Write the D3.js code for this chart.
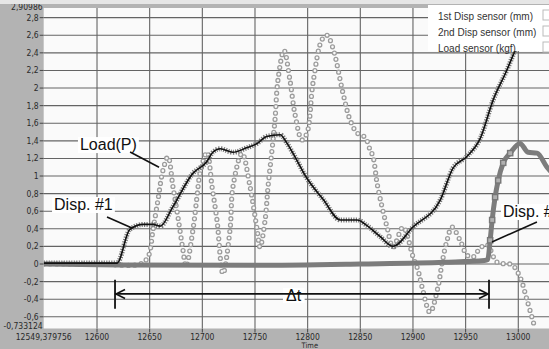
<!DOCTYPE html>
<html>
<head>
<meta charset="utf-8">
<script src="https://cdn.jsdelivr.net/npm/d3@7"></script>
<style>
  html, body { margin: 0; padding: 0; background: #b3b3b3; }
  svg { display: block; }
  .tick-label { font-family: 'Liberation Sans Narrow', 'DejaVu Sans Condensed', 'Liberation Sans', sans-serif; font-size: 8.5px; fill: #2a2a2a; }
  .note { font-family: 'Liberation Sans', Arial, sans-serif; font-size: 16px; fill: #111; }
  .legend-text { font-family: 'Liberation Sans', Arial, sans-serif; font-size: 10px; fill: #333; }
</style>
</head>
<body>
<div id="chart"></div>
<script>
// axis ticks
const xTicks = [12600, 12650, 12700, 12750, 12800, 12850, 12900, 12950, 13000];
const yTicks = [-0.6, -0.4, -0.2, 0, 0.2, 0.4, 0.6, 0.8, 1, 1.2, 1.4, 1.6, 1.8, 2, 2.2, 2.4, 2.6, 2.8];
const xMin = 12549.379756, xMax = 13054.8;
const yMin = -0.733124, yMax = 2.90986;
const xAxisTitle = "Time";

const legendNames = ["1st Disp sensor (mm)", "2nd Disp sensor (mm)", "Load sensor (kgf)"];

// Disp #1 (black hatched line)
const disp1Time = [12549.4, 12590, 12619, 12631, 12644, 12653, 12660, 12672, 12691, 12704, 12710, 12717, 12729, 12742, 12752, 12761, 12774, 12780, 12786, 12799, 12815, 12831, 12847, 12856, 12869, 12881, 12900, 12926, 12938, 12951, 12964, 12976, 12989, 12996, 13016];
const disp1Val  = [0.01, 0.01, 0.01, 0.39, 0.45, 0.45, 0.43, 0.65, 1.03, 1.16, 1.27, 1.31, 1.27, 1.32, 1.37, 1.45, 1.47, 1.38, 1.26, 0.98, 0.73, 0.5, 0.5, 0.44, 0.31, 0.2, 0.42, 0.73, 1.09, 1.22, 1.43, 1.86, 2.2, 2.4, 2.92];

// Load (light circles)
const loadTime = [12549.4, 12600, 12641, 12648.4, 12653.2, 12657.9, 12662.7, 12667.4, 12672.1, 12676.9, 12681.6, 12684.5, 12691.1, 12694.9, 12697.8, 12704.4, 12709.2, 12713.9, 12719.6, 12726.3, 12729.1, 12737.7, 12745.3, 12752.0, 12754.8, 12759.6, 12762.4, 12766.2, 12769.0, 12771.8, 12777.5, 12783.2, 12788.0, 12794.6, 12799.4, 12805.1, 12813.6, 12818.4, 12824.1, 12833.6, 12840.2, 12846.9, 12854.5, 12859.2, 12862.1, 12865.9, 12870.6, 12875.4, 12881.1, 12890.6, 12900.1, 12904.8, 12908.6, 12916.2, 12923.8, 12927.6, 12932.4, 12937.1, 12944.7, 12951.4, 12957.1, 12963.7, 12970.4, 12979.9, 12994.1, 13001.7, 13008.3, 13015.9];
const loadVal  = [0, 0, 0, 0.08, 0.39, 0.73, 1.07, 1.22, 0.88, 0.53, 0.16, -0.03, 0.39, 0.76, 1.03, 1.27, 0.88, 0.5, -0.11, 0.39, 0.88, 1.26, 0.88, 0.39, 0.19, 0.5, 0.88, 1.3, 1.64, 2.09, 2.43, 2.09, 1.7, 1.41, 1.49, 2.06, 2.55, 2.6, 2.45, 1.94, 1.64, 1.49, 1.44, 1.3, 1.22, 0.92, 0.65, 0.42, 0.19, 0.42, 0.08, -0.07, -0.26, -0.55, -0.26, 0.01, 0.27, 0.42, 0.27, 0.1, 0.08, 0.18, 0.22, 0.02, -0.01, -0.15, -0.41, -0.73];

// Disp #2 (thick gray line)
const disp2Time = [12549.4, 12620, 12750, 12850, 12930, 12968, 12971, 12973.3, 12975.2, 12978, 12980.9, 12985.7, 12992.3, 13001.7, 13009.3, 13017.8, 13027.3, 13035];
const disp2Val  = [0, -0.01, -0.015, 0, 0.02, 0.04, 0.05, 0.27, 0.5, 0.76, 0.95, 1.15, 1.26, 1.37, 1.27, 1.26, 1.1, 1.0];

// annotations, in data units
const notes = [
  { text: "Load(P)", t: 12583.8, v: 1.295, from: [12631.4, 1.273], to: [12658.9, 1.10] },
  { text: "Disp. #1", t: 12559.2, v: 0.614, from: [12609.5, 0.534], to: [12633.2, 0.409] },
  { text: "Disp. #2", t: 12985.4, v: 0.534, from: [13017.7, 0.477], to: [12975.0, 0.25] }
];
const deltaT = { start: 12617.1, end: 12972.2, v: -0.34, top: -0.18, bottom: -0.51, label: "\u0394t", labelT: 12786.6 };

const width = 549, height = 349;
const plot = { left: 43.7, right: 576, top: 8, bottom: 328.5 };

const x = d3.scaleLinear().domain([xMin, xMax]).range([plot.left, plot.right]);
const y = d3.scaleLinear().domain([yMin, yMax]).range([plot.bottom, plot.top]);

const commaFmt = d3.formatLocale({ decimal: ",", thousands: "", grouping: [3], currency: ["", ""], minus: "-" });
const yFmt = commaFmt.format(".1~f");

const svg = d3.select("#chart").append("svg")
  .attr("width", width)
  .attr("height", height);

svg.append("rect").attr("width", width).attr("height", height).attr("fill", "#b3b3b3");

svg.append("defs").append("clipPath").attr("id", "clip")
  .append("rect")
  .attr("x", plot.left).attr("y", plot.top)
  .attr("width", plot.right - plot.left).attr("height", plot.bottom - plot.top);

svg.append("rect")
  .attr("x", plot.left).attr("y", plot.top)
  .attr("width", plot.right - plot.left).attr("height", plot.bottom - plot.top)
  .attr("fill", "#fafafa");

const g = svg.append("g").attr("clip-path", "url(#clip)");

// grid
g.selectAll(".hgrid").data(yTicks).join("line")
  .attr("x1", plot.left).attr("x2", plot.right)
  .attr("y1", d => y(d)).attr("y2", d => y(d))
  .attr("stroke", "#646464").attr("stroke-width", 1.1);

g.selectAll(".vgrid").data(xTicks).join("line")
  .attr("x1", d => x(d)).attr("x2", d => x(d))
  .attr("y1", plot.top).attr("y2", plot.bottom)
  .attr("stroke", "#646464").attr("stroke-width", 1.1);

// axis ticks and labels
svg.append("g").selectAll("line").data(yTicks).join("line")
  .attr("x1", plot.left - 4).attr("x2", plot.left)
  .attr("y1", d => y(d)).attr("y2", d => y(d))
  .attr("stroke", "#444");

svg.append("g").selectAll("text").data(yTicks).join("text")
  .attr("class", "tick-label")
  .attr("x", plot.left - 5).attr("y", d => y(d) + 3)
  .attr("text-anchor", "end")
  .text(d => yFmt(d));

svg.append("text").attr("class", "tick-label")
  .attr("x", plot.left - 1).attr("y", y(yMin) + 0.5)
  .attr("text-anchor", "end")
  .text(commaFmt.format(".6~f")(yMin));

svg.append("text").attr("class", "tick-label")
  .attr("x", plot.left - 1).attr("y", y(yMax) + 1.5)
  .attr("text-anchor", "end")
  .text(commaFmt.format(".5~f")(yMax));

svg.append("g").selectAll("line").data(xTicks).join("line")
  .attr("x1", d => x(d)).attr("x2", d => x(d))
  .attr("y1", plot.bottom).attr("y2", plot.bottom + 4)
  .attr("stroke", "#444");

svg.append("g").selectAll("text").data(xTicks).join("text")
  .attr("class", "tick-label")
  .attr("x", d => x(d)).attr("y", plot.bottom + 11.5)
  .attr("text-anchor", "middle")
  .text(d => d);

svg.append("text").attr("class", "tick-label")
  .attr("x", x(xMin)).attr("y", plot.bottom + 11.5)
  .attr("text-anchor", "middle")
  .text(commaFmt.format(".6~f")(xMin));

svg.append("text").attr("class", "tick-label")
  .attr("x", (plot.left + plot.right) / 2).attr("y", plot.bottom + 19.5)
  .attr("text-anchor", "middle")
  .style("font-size", "7.5px")
  .text(xAxisTitle);

// series
const zip = (ts, vs) => ts.map((t, i) => ({ t, v: vs[i] }));
const disp1 = zip(disp1Time, disp1Val);
const load = zip(loadTime, loadVal);
const disp2 = zip(disp2Time, disp2Val);

const lineSmooth = d3.line().x(d => x(d.t)).y(d => y(d.v)).curve(d3.curveCatmullRom.alpha(0.5));
const lineMono = d3.line().x(d => x(d.t)).y(d => y(d.v)).curve(d3.curveMonotoneX);

// load circles (rings)
g.append("path").datum(load)
  .attr("d", lineSmooth)
  .attr("fill", "none").attr("stroke", "#9c9c9c").attr("stroke-width", 5.2)
  .attr("stroke-linecap", "round").attr("stroke-dasharray", "0,6.5");
g.append("path").datum(load)
  .attr("d", lineSmooth)
  .attr("fill", "none").attr("stroke", "#fafafa").attr("stroke-width", 2.6)
  .attr("stroke-linecap", "round").attr("stroke-dasharray", "0,6.5");

// disp #2
g.append("path").datum(disp2)
  .attr("d", lineMono)
  .attr("fill", "none").attr("stroke", "#7c7c7c").attr("stroke-width", 5)
  .attr("stroke-linejoin", "round");
g.selectAll(".sq").data(disp2.filter(d => d.v > 0.1 && d.t < 12995)).join("rect")
  .attr("x", d => x(d.t) - 2.6).attr("y", d => y(d.v) - 2.6)
  .attr("width", 5.2).attr("height", 5.2)
  .attr("fill", "#b0b0b0").attr("stroke", "#777").attr("stroke-width", 1.4);

// disp #1
g.append("path").datum(disp1)
  .attr("d", lineMono)
  .attr("fill", "none").attr("stroke", "#7a7a7a").attr("stroke-width", 5)
  .attr("stroke-dasharray", "1.2,1.3");
g.append("path").datum(disp1)
  .attr("d", lineMono)
  .attr("fill", "none").attr("stroke", "#111").attr("stroke-width", 1.6);

// annotations
const ann = svg.append("g").attr("clip-path", "url(#clip)");
notes.forEach(n => {
  const t = ann.append("text").attr("class", "note")
    .attr("x", x(n.t)).attr("y", y(n.v)).text(n.text);
  const b = t.node().getBBox();
  ann.insert("rect", "text")
    .attr("x", b.x - 2).attr("y", b.y + 1).attr("width", b.width + 4).attr("height", b.height - 1)
    .attr("fill", "#fff");
  ann.append("line")
    .attr("x1", x(n.from[0])).attr("y1", y(n.from[1]))
    .attr("x2", x(n.to[0])).attr("y2", y(n.to[1]))
    .attr("stroke", "#111").attr("stroke-width", 1.6);
});

// delta t arrow
const dy = y(deltaT.v);
ann.append("line")
  .attr("x1", x(deltaT.start)).attr("x2", x(deltaT.end))
  .attr("y1", dy).attr("y2", dy)
  .attr("stroke", "#111").attr("stroke-width", 1.8);
[deltaT.start, deltaT.end].forEach((t, i) => {
  ann.append("line")
    .attr("x1", x(t)).attr("x2", x(t))
    .attr("y1", y(deltaT.top)).attr("y2", y(deltaT.bottom))
    .attr("stroke", "#111").attr("stroke-width", 1.8);
  const dir = i === 0 ? 1 : -1;
  ann.append("path")
    .attr("d", `M${x(t) + dir * 10},${dy - 4.5}L${x(t) + dir * 1},${dy}L${x(t) + dir * 10},${dy + 4.5}`)
    .attr("fill", "none").attr("stroke", "#111").attr("stroke-width", 1.6);
});
const dt = ann.append("text").attr("class", "note")
  .attr("x", x(deltaT.labelT)).attr("y", dy + 7)
  .attr("text-anchor", "middle").text(deltaT.label);
const db = dt.node().getBBox();
ann.insert("rect", "text")
  .attr("x", db.x - 3).attr("y", db.y + 1).attr("width", db.width + 6).attr("height", db.height - 2)
  .attr("fill", "#fff");

// legend
const leg = svg.append("g").attr("transform", "translate(428,5)");
leg.append("rect").attr("width", 140).attr("height", 46).attr("fill", "#fff");
legendNames.forEach((name, i) => {
  leg.append("text").attr("class", "legend-text")
    .attr("x", 10).attr("y", 14.5 + i * 16).text(name);
  leg.append("rect")
    .attr("x", 115).attr("y", 5 + i * 16).attr("width", 10).attr("height", 10)
    .attr("fill", "#fff").attr("stroke", "#bbb");
});

// faded strip along the very top edge
svg.append("rect").attr("width", width).attr("height", 4).attr("fill", "#e6e6e6");
</script>
</body>
</html>
